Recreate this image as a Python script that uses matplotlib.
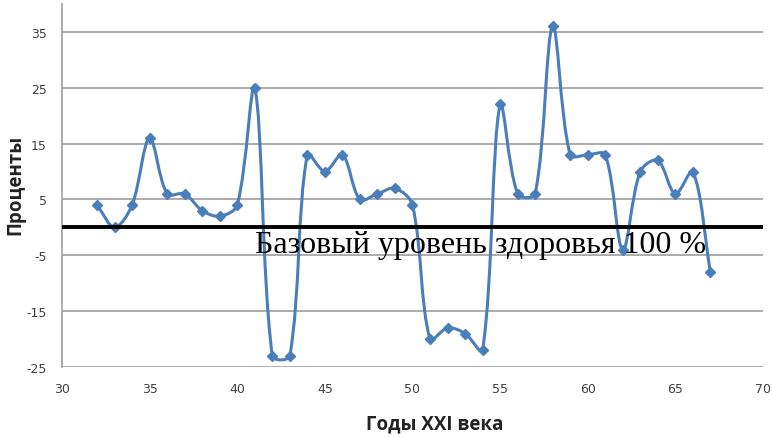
import matplotlib
matplotlib.use("Agg")
import matplotlib.pyplot as plt
from matplotlib.path import Path
from matplotlib.patches import PathPatch
import numpy as np

plt.rcParams["axes.unicode_minus"] = False

years = list(range(32, 68))
values = [4, 0, 4, 16, 6, 6, 3, 2, 4, 25, -23, -23, 13, 10, 13, 5, 6, 7, 4,
          -20, -18, -19, -22, 22, 6, 6, 36, 13, 13, 13, -4, 10, 12, 6, 10, -8]
x_ticks = [30, 35, 40, 45, 50, 55, 60, 65, 70]
y_ticks = [-25, -15, -5, 5, 15, 25, 35]
baseline_label = "Базовый уровень здоровья 100 %"
x_label = "Годы XXI века"
y_label = "Проценты"

color = "#4a7ebb"

fig = plt.figure(figsize=(7.72, 4.39), dpi=100)
ax = fig.add_axes([0.0803, 0.1617, 0.908, 0.827])
ax.set_xlim(30, 70)
ax.set_ylim(-25, 40)
fig.canvas.draw()

# smoothed line (spreadsheet-style Bezier smoothing, computed in display space)
P = ax.transData.transform(np.column_stack([years, values]).astype(float))
n = len(P)
tangents = []
for i in range(n):
    a = P[i - 1] if i > 0 else P[i]
    b = P[i + 1] if i + 1 < n else P[i]
    da = np.hypot(*(P[i] - a))
    db = np.hypot(*(b - P[i]))
    tangents.append((b - a) / max(da + db, 1e-9))
verts = [tuple(P[0])]
codes = [Path.MOVETO]
for i in range(n - 1):
    d = np.hypot(*(P[i + 1] - P[i]))
    c1 = P[i] + tangents[i] * d / 3.0
    c2 = P[i + 1] - tangents[i + 1] * d / 3.0
    verts += [tuple(c1), tuple(c2), tuple(P[i + 1])]
    codes += [Path.CURVE4] * 3
patch = PathPatch(Path(verts, codes), facecolor="none", edgecolor=color, lw=2.2,
                  zorder=3, transform=None)
ax.add_artist(patch)
ax.plot(years, values, linestyle="none", marker="D", markersize=5, color=color, zorder=4)

# grid
for yt in y_ticks:
    ax.axhline(yt, color="#a6a6a6", lw=1.3, zorder=1)
ax.axhline(0, color="black", lw=2.8, zorder=5)

for s in ["top", "right", "bottom"]:
    ax.spines[s].set_visible(False)
ax.spines["left"].set_color("#a6a6a6")
ax.spines["left"].set_linewidth(1.3)

ax.set_xticks(x_ticks)
ax.set_yticks(y_ticks)
ax.tick_params(axis="both", length=0, labelsize=9, labelcolor="#404040")
ax.tick_params(axis="x", pad=11)
ax.tick_params(axis="y", pad=11)

ax.text(41.0, -3.0, baseline_label, family="Liberation Serif", fontsize=23,
        va="center", ha="left", color="black", zorder=6)

fig.text(0.563, 0.034, x_label, ha="center", va="center", fontsize=13.5,
         fontweight="bold", family="Open Sans", color="#222222")
fig.text(0.02, 0.58, y_label, ha="center", va="center", rotation=90, fontsize=13.5,
         fontweight="bold", family="Open Sans", color="#222222")

fig.savefig("out.png", dpi=100)
